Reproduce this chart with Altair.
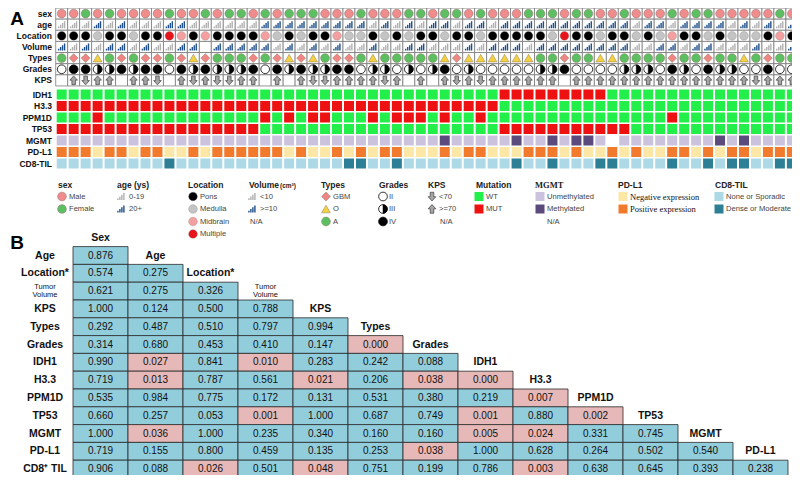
import altair as alt
import pandas as pd

# ======================= DATA =======================
# Panel A - one code per patient (62 patients, left to right)
SEX = list("MMFMFMMMMFMM" "FMFFMFMFFFMM" "MFMMMFFMFFMF" "MMMFFFMFFMMF" "MMMFMFFMMMMMFM")
AGE = list("LLLHLHLLLHHL" "LLLLLHHHHHHH" "HHLHLHLHHLHH" "LHHHHHHHHHHH" "LHHLHHHHLHLHLH")
LOCATION = list("PPPMPPMPPXDP" "DPPPP" "DMPMPPDMMPMPMPPMPPMPPP" "PPMXPPMPPMPMDPPMPMMMPDP")
VOLUME = list("HLHLHHLHLLHH" "NHHHHHLHLHLH" "LLHLLHHLLLHL" "HHHLHHHHHHHH" "LLHHLHHLLLHLLH")
TYPES = list("AGGOAGAGGAGO" "GAAAG" "AGOGOAGGAOAAAAAOGOOOOO" "OAAGAAOOA" "AAAGAAGAAOAGAA")
GRADES = list("244334344243" "43334" "2434334" "423323234232" "222233422223" "33243243322422")
KPS = list("NUDUUNUUDNUD" "UDDUU" "NUNUDDU" "UUUDUNUNUDUD" "UUUUUUNUUUUU" "UUUUUUUUUUDUUU")

IDH1 = list("WWWWWWWWWWWW" "WWWWWWWWWWWW" "WWWWWWWWWWWW" "WMMMMMMMMMWW" "WWWWWWWWWWWWWW")
H33 = list("MMMMMMMMMMMM" "MMMMMMMMMMMM" "MMMMMMMMMMMM" "MWWWWWWWWWWW" "WWWWWWWWWWWWWW")
PPM1D = list("WWWMWWWWWWWW" "WWWWWMWMWMMW" "WWMWMMMWMWWM" "WWWWWWWWWWWW" "WWWMWWWWWWWWWW")
TP53 = list("MMMMMMMMMMMM" "MMMMMWWWWWWW" "WWWWWWWWWWWW" "WMMMMMMMMMMM" "WWWWWWWWWWWWWW")
MGMT = list("UUUUUUUUUUUU" "UUUUUUUUUUUU" "UUUUUUUUMUUU" "UUMUUMUMMUNU" "UUUUUUUMUMUUUU")
PDL1 = list("PPPNPPNPPNNP" "NPPPPPPNPNNP" "NPNPPNNNPNPP" "NNNPPPNPNNPN" "PNNPPNPNPPNPPP")
CD8 = list("SSSSSSSSSDSS" "SSSSSSSSSSSS" "DDSSDSSSSSSS" "SSDSSDSSSDDS" "SSSDSSDSDDSSDD")

TOP_ROWS = ["sex", "age", "Location", "Volume", "Types", "Grades", "KPS"]
MUT_ROWS = ["IDH1", "H3.3", "PPM1D", "TP53", "MGMT", "PD-L1", "CD8-TIL"]

# Panel B - p values (lower triangle)
B_ROWS = ["Age", "Location*", "Tumor\nVolume", "KPS", "Types", "Grades", "IDH1", "H3.3",
          "PPM1D", "TP53", "MGMT", "PD-L1", "CD8\u207a TIL"]
B_COLS = ["Sex", "Age", "Location*", "Tumor\nVolume", "KPS", "Types", "Grades", "IDH1",
          "H3.3", "PPM1D", "TP53", "MGMT", "PD-L1"]
P_VALUES = [
    [0.876],
    [0.574, 0.275],
    [0.621, 0.275, 0.326],
    [1.000, 0.124, 0.500, 0.788],
    [0.292, 0.487, 0.510, 0.797, 0.994],
    [0.314, 0.680, 0.453, 0.410, 0.147, 0.000],
    [0.990, 0.027, 0.841, 0.010, 0.283, 0.242, 0.088],
    [0.719, 0.013, 0.787, 0.561, 0.021, 0.206, 0.038, 0.000],
    [0.535, 0.984, 0.775, 0.172, 0.131, 0.531, 0.380, 0.219, 0.007],
    [0.660, 0.257, 0.053, 0.001, 1.000, 0.687, 0.749, 0.001, 0.880, 0.002],
    [1.000, 0.036, 1.000, 0.235, 0.340, 0.160, 0.160, 0.005, 0.024, 0.331, 0.745],
    [0.719, 0.155, 0.800, 0.459, 0.135, 0.253, 0.038, 1.000, 0.628, 0.264, 0.502, 0.540],
    [0.906, 0.088, 0.026, 0.501, 0.048, 0.751, 0.199, 0.786, 0.003, 0.638, 0.645, 0.393, 0.238],
]

# ======================= LAYOUT (reference pixel frame) =======================
N = len(SEX)
A_X0, A_DX = 61.7, 11.97
TOP_Y0, TOP_DY = 13.6, 11.13
MUT_Y0, MUT_DY = 94.5, 11.5
LEG_TITLE_Y = 185.0
LEG_Y = [196.5, 209.0, 221.5, 234.0]
B_X0, B_CW = 73.0, 55.0
B_Y0, B_RH = 255.5, 17.8
B_LABEL_X = 45.0
SANS = "Liberation Sans"
SERIF = "Liberation Serif"

XS = alt.Scale(domain=[8, 792], range=[0, 784], nice=False, zero=False)
YS = alt.Scale(domain=[8, 475], range=[0, 467], nice=False, zero=False)


def cx(k):
    return A_X0 + A_DX * k


def ty(r):
    return TOP_Y0 + TOP_DY * r


def my(r):
    return MUT_Y0 + MUT_DY * r


def xy():
    return dict(x=alt.X("x:Q", scale=XS, axis=None), y=alt.Y("y:Q", scale=YS, axis=None))


def rxy():
    return dict(x=alt.X("x1:Q", scale=XS, axis=None), x2="x2:Q",
                y=alt.Y("y1:Q", scale=YS, axis=None), y2="y2:Q")


def pts(codes, row, mapping, lx, lcats):
    recs = [{"x": cx(k), "y": ty(row), "cat": mapping[c]} for k, c in enumerate(codes) if mapping.get(c)]
    recs += [{"x": lx, "y": LEG_Y[i], "cat": c} for i, c in enumerate(lcats)]
    return pd.DataFrame(recs)


SIGNAL = ("M-0.95,0.9L-0.6,0.9L-0.6,0.45L-0.95,0.45Z"
          "M-0.45,0.9L-0.1,0.9L-0.1,0L-0.45,0Z"
          "M0.05,0.9L0.4,0.9L0.4,-0.45L0.05,-0.45Z"
          "M0.55,0.9L0.9,0.9L0.9,-0.9L0.55,-0.9Z")
UP = "M0,-1L0.85,-0.05L0.4,-0.05L0.4,0.95L-0.4,0.95L-0.4,-0.05L-0.85,-0.05Z"
DOWN = "M0,1L0.85,0.05L0.4,0.05L0.4,-0.95L-0.4,-0.95L-0.4,0.05L-0.85,0.05Z"
HALF = "M0,-1A1,1,0,0,1,0,1Z"

layers = []

# ---- Panel A: top-row cell boxes
cells = pd.DataFrame([{"x1": cx(k) - A_DX / 2, "x2": cx(k) + A_DX / 2,
                       "y1": ty(r) - TOP_DY / 2, "y2": ty(r) + TOP_DY / 2}
                      for k in range(N) for r in range(len(TOP_ROWS))])
layers.append(alt.Chart(cells).mark_rect(fill="white", stroke="#7a7a7a", strokeWidth=0.8).encode(**rxy()))

# sex
d = pts(SEX, 0, {"M": "Male", "F": "Female"}, 62, ["Male", "Female"])
layers.append(alt.Chart(d).mark_point(filled=True, size=76, opacity=1, stroke="#8a6a6a", strokeWidth=0.5).encode(
    **xy(), color=alt.Color("cat:N", legend=None,
                            scale=alt.Scale(domain=["Male", "Female"], range=["#f08c8c", "#5cbf62"]))))
# age
d = pts(AGE, 1, {"L": "0-19", "H": "20+"}, 121, ["0-19", "20+"])
layers.append(alt.Chart(d).mark_point(filled=True, shape=SIGNAL, size=64, opacity=1).encode(
    **xy(), color=alt.Color("cat:N", legend=None,
                            scale=alt.Scale(domain=["0-19", "20+"], range=["#b0b0b0", "#1f4f8a"]))))
# location
d = pts(LOCATION, 2, {"P": "Pons", "M": "Medulla", "D": "Midbrain", "X": "Multiple"}, 193,
        ["Pons", "Medulla", "Midbrain", "Multiple"])
layers.append(alt.Chart(d).mark_point(filled=True, size=76, opacity=1, stroke="#777", strokeWidth=0.3).encode(
    **xy(), color=alt.Color("cat:N", legend=None,
                            scale=alt.Scale(domain=["Pons", "Medulla", "Midbrain", "Multiple"],
                                            range=["#000000", "#c4c4c4", "#f4a0a0", "#e8141c"]))))
# volume
d = pts(VOLUME, 3, {"L": "<10", "H": ">=10", "N": None}, 252, ["<10", ">=10"])
layers.append(alt.Chart(d).mark_point(filled=True, shape=SIGNAL, size=64, opacity=1).encode(
    **xy(), color=alt.Color("cat:N", legend=None,
                            scale=alt.Scale(domain=["<10", ">=10"], range=["#b0b0b0", "#1f4f8a"]))))
# types
d = pts(TYPES, 4, {"G": "GBM", "O": "O", "A": "A"}, 326, ["GBM", "O", "A"])
layers.append(alt.Chart(d).mark_point(filled=True, size=78, opacity=1, stroke="#8a7a5a", strokeWidth=0.5).encode(
    **xy(),
    color=alt.Color("cat:N", legend=None,
                    scale=alt.Scale(domain=["GBM", "O", "A"], range=["#ef8585", "#f5d142", "#5cbf62"])),
    shape=alt.Shape("cat:N", legend=None,
                    scale=alt.Scale(domain=["GBM", "O", "A"], range=["diamond", "triangle-up", "circle"]))))
# grades
d = pts(GRADES, 5, {"2": "II", "3": "III", "4": "IV"}, 383, ["II", "III", "IV"])
layers.append(alt.Chart(d).mark_point(filled=True, size=76, opacity=1, stroke="black", strokeWidth=0.8).encode(
    **xy(), color=alt.Color("cat:N", legend=None,
                            scale=alt.Scale(domain=["II", "III", "IV"], range=["white", "white", "black"]))))
layers.append(alt.Chart(d[d["cat"] == "III"]).mark_point(
    filled=True, shape=HALF, size=76, opacity=1, fill="black", stroke="black", strokeWidth=0.5).encode(**xy()))
# KPS
d = pts(KPS, 6, {"U": ">=70", "D": "<70", "N": None}, 432, ["<70", ">=70"])
layers.append(alt.Chart(d).mark_point(filled=True, size=80, opacity=1, fill="#a6a6a6", stroke="#3c3c3c",
                                      strokeWidth=0.7).encode(
    **xy(), shape=alt.Shape("cat:N", legend=None, scale=alt.Scale(domain=["<70", ">=70"], range=[DOWN, UP]))))

# mutation / marker squares
MUT_MAP = {"W": "WT", "M": "MUT"}
row_defs = [(IDH1, MUT_MAP), (H33, MUT_MAP), (PPM1D, MUT_MAP), (TP53, MUT_MAP),
            (MGMT, {"U": "Unmethylated", "M": "Methylated", "N": "NA"}),
            (PDL1, {"N": "Negative expression", "P": "Positive expression"}),
            (CD8, {"S": "None or Sporadic", "D": "Dense or Moderate"})]
recs = []
for r, (codes, mp) in enumerate(row_defs):
    for k, c in enumerate(codes):
        recs.append({"x1": cx(k) - 5, "x2": cx(k) + 5, "y1": my(r) - 5, "y2": my(r) + 5, "cat": mp[c]})
for lx, cats in [(479, ["WT", "MUT"]), (540, ["Unmethylated", "Methylated"]),
                 (623, ["Negative expression", "Positive expression"]),
                 (719, ["None or Sporadic", "Dense or Moderate"])]:
    for i, c in enumerate(cats):
        recs.append({"x1": lx - 4.5, "x2": lx + 4.5, "y1": LEG_Y[i] - 4.5, "y2": LEG_Y[i] + 4.5, "cat": c})
SQ_DOMAIN = ["WT", "MUT", "Unmethylated", "Methylated", "NA", "Negative expression", "Positive expression",
             "None or Sporadic", "Dense or Moderate"]
SQ_RANGE = ["#22ef4a", "#ee1111", "#cbc3dd", "#5b4a7c", "#ffffff", "#fde7a6", "#f27a2c", "#add8e6", "#2d7f96"]
layers.append(alt.Chart(pd.DataFrame(recs)).mark_rect().encode(
    **rxy(), color=alt.Color("cat:N", legend=None, scale=alt.Scale(domain=SQ_DOMAIN, range=SQ_RANGE))))

# row labels panel A
lab = pd.DataFrame([{"x": 52, "y": ty(r), "t": t} for r, t in enumerate(TOP_ROWS)] +
                   [{"x": 52, "y": my(r), "t": t} for r, t in enumerate(MUT_ROWS)])
layers.append(alt.Chart(lab).mark_text(align="right", baseline="middle", font=SANS, fontSize=8.5,
                                       fontWeight="bold", color="#111").encode(**xy(), text="t:N"))

# panel letters
letters = pd.DataFrame([{"x": 17, "y": 19, "t": "A"}, {"x": 17, "y": 243, "t": "B"}])
layers.append(alt.Chart(letters).mark_text(align="center", baseline="middle", font=SANS, fontSize=19,
                                           fontWeight="bold", color="black").encode(**xy(), text="t:N"))

# legend titles
titles = pd.DataFrame([{"x": x, "y": LEG_TITLE_Y, "t": t} for x, t in
                       [(58, "sex"), (117, "age (ys)"), (188, "Location"), (249, "Volume"), (321, "Types"),
                        (379, "Grades"), (428, "KPS"), (476, "Mutation"), (618, "PD-L1"), (715, "CD8-TIL")]])
layers.append(alt.Chart(titles).mark_text(align="left", baseline="middle", font=SANS, fontSize=8.5,
                                          fontWeight="bold", color="#222").encode(**xy(), text="t:N"))
layers.append(alt.Chart(pd.DataFrame([{"x": 280, "y": LEG_TITLE_Y + 0.5, "t": "(cm\u00b3)"}])).mark_text(
    align="left", baseline="middle", font=SANS, fontSize=6.5, fontWeight="bold", color="#222").encode(
    **xy(), text="t:N"))
layers.append(alt.Chart(pd.DataFrame([{"x": 535, "y": LEG_TITLE_Y, "t": "MGMT"}])).mark_text(
    align="left", baseline="middle", font=SERIF, fontSize=8.5, fontWeight="bold", color="#222").encode(
    **xy(), text="t:N"))

# legend item labels
items = [(69, 0, "Male"), (69, 1, "Female"), (129, 0, "0-19"), (129, 1, "20+"),
         (200, 0, "Pons"), (200, 1, "Medulla"), (200, 2, "Midbrain"), (200, 3, "Multiple"),
         (260, 0, "<10"), (260, 1, ">=10"), (250, 2, "N/A"),
         (333, 0, "GBM"), (333, 1, "O"), (333, 2, "A"),
         (389, 0, "II"), (389, 1, "III"), (389, 2, "IV"),
         (439, 0, "<70"), (439, 1, ">=70"), (440, 2, "N/A"),
         (486, 0, "WT"), (486, 1, "MUT"),
         (547, 0, "Unmethylated"), (547, 1, "Methylated"), (547, 2, "N/A"),
         (726, 0, "None or Sporadic"), (726, 1, "Dense or Moderate")]
it = pd.DataFrame([{"x": x, "y": LEG_Y[r], "t": t} for x, r, t in items])
layers.append(alt.Chart(it).mark_text(align="left", baseline="middle", font=SANS, fontSize=7.6,
                                      color="#444").encode(**xy(), text="t:N"))
it2 = pd.DataFrame([{"x": 630, "y": LEG_Y[r], "t": t} for r, t in
                    [(0, "Negative expression"), (1, "Positive expression")]])
layers.append(alt.Chart(it2).mark_text(align="left", baseline="middle", font=SERIF, fontSize=8.5,
                                       color="#111").encode(**xy(), text="t:N"))

# ---- Panel B: table
cell_recs = []
for i, row in enumerate(P_VALUES):
    for j, v in enumerate(row):
        cell_recs.append({"x1": B_X0 + B_CW * j, "x2": B_X0 + B_CW * (j + 1),
                          "y1": B_Y0 + B_RH * (i - 0.5), "y2": B_Y0 + B_RH * (i + 0.5),
                          "x": B_X0 + B_CW * (j + 0.5), "y": B_Y0 + B_RH * i,
                          "sig": "p<0.05" if v < 0.05 else "ns", "t": f"{v:.3f}"})
tab = pd.DataFrame(cell_recs)
layers.append(alt.Chart(tab).mark_rect(stroke="#2a2a2a", strokeWidth=0.8).encode(
    **rxy(), color=alt.Color("sig:N", legend=None,
                             scale=alt.Scale(domain=["ns", "p<0.05"], range=["#92cddc", "#e6b8b7"]))))
layers.append(alt.Chart(tab).mark_text(align="center", baseline="middle", font=SANS, fontSize=10,
                                       color="#111").encode(**xy(), text="t:N"))

heads = ([{"x": B_LABEL_X, "y": B_Y0 + B_RH * i, "t": t} for i, t in enumerate(B_ROWS)] +
         [{"x": B_X0 + B_CW * (j + 0.5), "y": B_Y0 + B_RH * (j - 1), "t": t} for j, t in enumerate(B_COLS)])
hd = pd.DataFrame(heads)
big = hd[~hd["t"].str.contains("\n")]
small = hd[hd["t"].str.contains("\n")]
layers.append(alt.Chart(big).mark_text(align="center", baseline="middle", font=SANS, fontSize=10.5,
                                       fontWeight="bold", color="#111").encode(**xy(), text="t:N"))
layers.append(alt.Chart(small).mark_text(align="center", baseline="middle", font=SANS, fontSize=7.5,
                                         lineBreak="\n", lineHeight=8, dy=-4, color="#111").encode(
    **xy(), text="t:N"))

chart = alt.layer(*layers).resolve_scale(color="independent", shape="independent").properties(
    width=784, height=467, padding=0, autosize=alt.AutoSizeParams(type="none")
).configure_view(stroke=None)

chart.save("out.html", embed_options={"renderer": "svg", "actions": False})
